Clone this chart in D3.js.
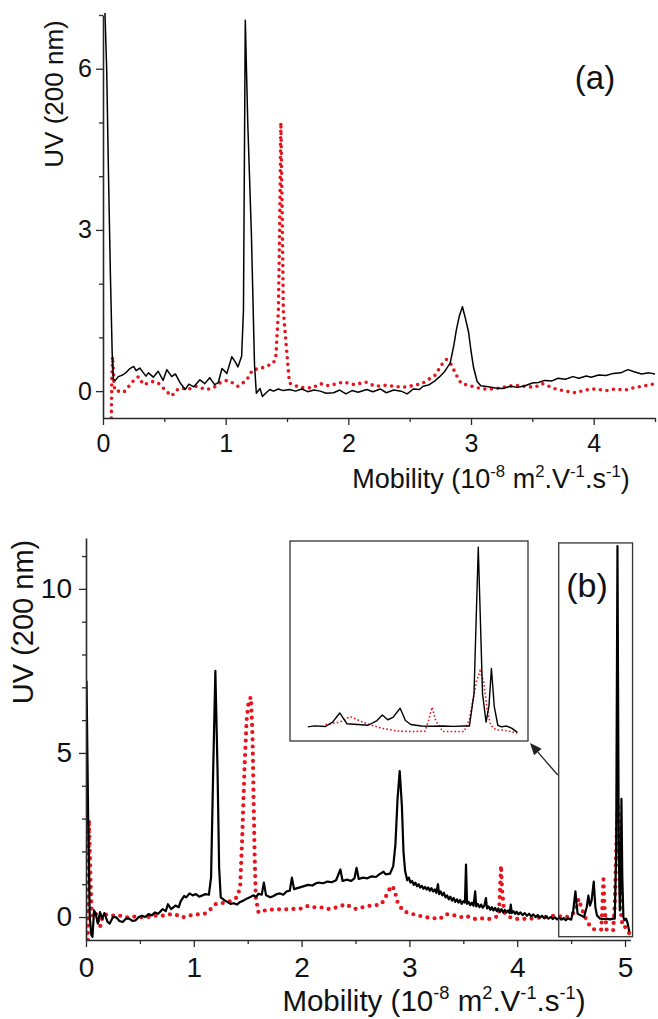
<!DOCTYPE html>
<html><head><meta charset="utf-8">
<script src="https://cdn.jsdelivr.net/npm/d3@7"></script>
<style>
body{margin:0;background:#fff}
svg{display:block}
text{font-family:"Liberation Sans",Arial,Helvetica,sans-serif;fill:#111}
</style>
</head><body>
<svg id="c" width="658" height="1019"></svg>
<script>
// ---------------- DATA ----------------
// Panel (a): mobility (x) vs UV absorbance (y)
const aBlack = [[0.015,7.1],[0.03,6.0],[0.045,4.0],[0.06,2.2],[0.075,0.7],[0.085,0.22],[0.1,0.2],[0.125,0.27],[0.16,0.3],[0.19,0.35],[0.22,0.42],[0.25,0.46],[0.27,0.38],[0.30,0.43],[0.33,0.34],[0.35,0.28],[0.37,0.34],[0.41,0.26],[0.45,0.37],[0.49,0.2],[0.52,0.4],[0.56,0.27],[0.59,0.32],[0.63,0.15],[0.67,0.03],[0.70,0.13],[0.74,0.08],[0.79,0.21],[0.83,0.14],[0.87,0.25],[0.91,0.12],[0.94,0.16],[0.97,0.42],[1.01,0.33],[1.05,0.64],[1.08,0.54],[1.10,0.45],[1.13,0.65],[1.145,1.5],[1.16,6.9],[1.18,5.0],[1.21,2.9],[1.235,0.5],[1.25,-0.04],[1.28,0.05],[1.30,-0.1],[1.33,-0.03],[1.36,0.03],[1.39,0.0],[1.43,0.04],[1.47,0.01],[1.52,0.03],[1.57,0.0],[1.62,0.04],[1.67,-0.01],[1.72,0.02],[1.77,0.0],[1.82,-0.04],[1.88,-0.03],[1.93,0.02],[1.98,-0.05],[2.03,0.01],[2.08,-0.02],[2.15,0.03],[2.2,-0.01],[2.26,0.04],[2.31,-0.03],[2.37,0.02],[2.43,0.0],[2.48,-0.05],[2.53,0.04],[2.58,0.03],[2.61,0.09],[2.66,0.12],[2.70,0.18],[2.74,0.26],[2.78,0.35],[2.83,0.52],[2.86,0.85],[2.88,1.13],[2.905,1.4],[2.93,1.57],[2.955,1.35],[2.98,1.1],[3.0,0.75],[3.02,0.45],[3.05,0.18],[3.08,0.1],[3.14,0.08],[3.2,0.06],[3.26,0.05],[3.32,0.09],[3.38,0.07],[3.44,0.1],[3.50,0.15],[3.55,0.16],[3.6,0.2],[3.66,0.19],[3.71,0.24],[3.77,0.22],[3.83,0.27],[3.88,0.24],[3.94,0.28],[3.98,0.26],[4.04,0.3],[4.1,0.29],[4.16,0.33],[4.22,0.34],[4.28,0.4],[4.33,0.36],[4.39,0.32],[4.45,0.34],[4.5,0.32]];

const aRed = [[0.068,-0.5],[0.072,0.2],[0.078,0.64],[0.085,0.35],[0.09,0.1],[0.1,0.0],[0.13,0.0],[0.17,-0.02],[0.2,0.06],[0.25,0.2],[0.29,0.27],[0.33,0.12],[0.37,0.15],[0.41,0.18],[0.45,0.15],[0.49,0.06],[0.53,-0.03],[0.56,-0.09],[0.60,0.02],[0.64,0.06],[0.69,0.03],[0.76,0.09],[0.84,0.03],[0.90,0.06],[0.95,0.15],[1.01,0.2],[1.06,0.15],[1.10,0.09],[1.14,0.15],[1.18,0.24],[1.22,0.4],[1.28,0.42],[1.33,0.46],[1.39,0.52],[1.41,0.67],[1.43,1.5],[1.44,3.0],[1.45,5.0],[1.46,3.5],[1.47,1.5],[1.50,0.68],[1.52,0.15],[1.55,0.12],[1.60,0.07],[1.71,0.06],[1.77,0.14],[1.84,0.1],[1.96,0.17],[2.05,0.12],[2.14,0.17],[2.22,0.09],[2.31,0.11],[2.44,0.07],[2.52,0.1],[2.6,0.14],[2.71,0.3],[2.76,0.49],[2.80,0.59],[2.84,0.49],[2.88,0.3],[2.92,0.14],[2.98,0.11],[3.09,0.04],[3.19,0.04],[3.28,0.08],[3.36,0.11],[3.44,0.09],[3.52,0.07],[3.58,0.14],[3.69,0.04],[3.77,0.0],[3.85,-0.03],[3.93,0.02],[4.01,0.04],[4.1,0.01],[4.18,0.04],[4.26,0.02],[4.34,0.07],[4.42,0.1],[4.5,0.14]];

// Panel (b)
const bBlack = [[0.005,7.2],[0.02,3.0],[0.035,0.0],[0.05,-0.55],[0.06,-0.6],[0.075,0.2],[0.09,0.1],[0.11,-0.2],[0.13,0.15],[0.15,-0.05],[0.17,0.12],[0.2,-0.15],[0.22,-0.2],[0.25,0.0],[0.28,-0.01],[0.31,-0.12],[0.34,-0.15],[0.37,-0.05],[0.40,-0.05],[0.43,-0.12],[0.46,-0.1],[0.49,0.0],[0.52,0.04],[0.55,0.0],[0.58,0.09],[0.61,0.05],[0.64,0.14],[0.67,0.1],[0.71,0.24],[0.74,0.18],[0.76,0.39],[0.79,0.24],[0.83,0.35],[0.86,0.3],[0.88,0.49],[0.91,0.64],[0.93,0.6],[0.96,0.72],[0.99,0.66],[1.02,0.7],[1.05,0.62],[1.08,0.66],[1.11,0.7],[1.14,0.68],[1.16,1.2],[1.18,4.5],[1.20,7.5],[1.22,4.5],[1.235,1.5],[1.25,0.6],[1.28,0.52],[1.31,0.46],[1.34,0.4],[1.37,0.42],[1.40,0.38],[1.43,0.46],[1.46,0.5],[1.49,0.56],[1.52,0.6],[1.55,0.66],[1.58,0.62],[1.60,0.71],[1.63,0.68],[1.65,1.05],[1.67,0.66],[1.71,0.6],[1.74,0.64],[1.77,0.7],[1.80,0.72],[1.83,0.68],[1.86,0.78],[1.89,0.8],[1.91,1.2],[1.93,0.85],[1.96,0.88],[2.0,0.92],[2.03,0.95],[2.06,0.98],[2.1,0.96],[2.13,1.02],[2.16,1.05],[2.2,1.03],[2.24,1.08],[2.28,1.06],[2.32,1.12],[2.36,1.45],[2.38,1.1],[2.42,1.14],[2.46,1.1],[2.49,1.18],[2.51,1.5],[2.53,1.16],[2.57,1.2],[2.61,1.18],[2.65,1.24],[2.69,1.22],[2.72,1.3],[2.76,1.38],[2.78,1.3],[2.82,1.32],[2.85,1.55],[2.87,2.2],[2.89,3.6],[2.91,4.45],[2.93,3.4],[2.945,2.0],[2.96,1.4],[2.98,1.12],[2.995,1.2],[3.01,1.05],[3.025,1.1],[3.04,0.98],[3.055,1.05],[3.07,0.94],[3.085,1.0],[3.1,0.9],[3.115,0.95],[3.13,0.86],[3.145,0.92],[3.16,0.84],[3.175,0.9],[3.19,0.8],[3.205,0.88],[3.22,0.78],[3.235,0.84],[3.25,0.74],[3.265,1.0],[3.275,0.7],[3.29,0.78],[3.305,0.66],[3.32,0.74],[3.335,0.6],[3.35,0.66],[3.365,0.54],[3.38,0.62],[3.395,0.5],[3.41,0.58],[3.425,0.46],[3.44,0.54],[3.455,0.44],[3.47,0.52],[3.485,0.4],[3.5,0.48],[3.515,0.44],[3.525,1.6],[3.535,0.4],[3.55,0.46],[3.565,0.36],[3.58,0.44],[3.595,0.34],[3.61,0.78],[3.62,0.32],[3.635,0.4],[3.65,0.3],[3.665,0.38],[3.68,0.28],[3.695,0.34],[3.71,0.58],[3.72,0.26],[3.735,0.32],[3.75,0.22],[3.765,0.3],[3.78,0.2],[3.795,0.28],[3.81,0.18],[3.825,0.26],[3.84,0.16],[3.855,0.24],[3.87,0.14],[3.885,0.22],[3.9,0.14],[3.915,0.2],[3.93,0.12],[3.94,0.38],[3.95,0.12],[3.965,0.18],[3.98,0.1],[3.995,0.16],[4.01,0.08],[4.03,0.14],[4.05,0.06],[4.07,0.12],[4.09,0.04],[4.11,0.1],[4.13,0.02],[4.15,0.08],[4.17,0.0],[4.19,0.06],[4.21,-0.02],[4.23,0.04],[4.25,-0.04],[4.27,0.02],[4.29,-0.05],[4.31,0.0],[4.33,-0.06],[4.35,-0.01],[4.37,-0.07],[4.39,-0.02],[4.41,-0.08],[4.43,-0.03],[4.45,-0.1],[4.47,-0.04],[4.50,-0.08],[4.52,0.2],[4.54,0.78],[4.56,0.1],[4.59,0.05],[4.62,0.0],[4.645,0.3],[4.66,0.65],[4.675,0.35],[4.69,0.5],[4.71,1.08],[4.725,0.3],[4.74,0.05],[4.77,-0.05],[4.80,-0.06],[4.83,-0.05],[4.86,-0.07],[4.89,-0.05],[4.905,-0.05],[4.918,2.0],[4.93,11.3],[4.942,2.0],[4.952,0.2],[4.96,1.2],[4.967,3.6],[4.975,1.2],[4.985,0.0],[4.995,-0.1],[5.01,-0.05],[5.025,-0.2],[5.04,-0.45]];

const bRed = [[0.018,-0.7],[0.022,1.5],[0.027,2.96],[0.035,2.0],[0.045,0.8],[0.055,0.1],[0.07,0.0],[0.09,0.12],[0.11,-0.1],[0.13,-0.3],[0.15,-0.05],[0.17,0.09],[0.21,0.05],[0.24,0.04],[0.30,0.06],[0.35,0.0],[0.40,-0.01],[0.46,0.02],[0.52,-0.01],[0.57,0.0],[0.61,0.01],[0.66,0.05],[0.71,0.04],[0.76,0.07],[0.80,0.09],[0.85,0.05],[0.89,-0.01],[0.94,0.02],[0.98,0.06],[1.04,0.08],[1.1,0.1],[1.15,0.22],[1.2,0.39],[1.25,0.42],[1.30,0.44],[1.35,0.5],[1.40,0.6],[1.43,0.9],[1.45,2.5],[1.47,4.5],[1.49,6.0],[1.51,6.6],[1.53,6.7],[1.545,5.5],[1.555,3.5],[1.565,1.8],[1.575,0.6],[1.60,0.14],[1.64,0.19],[1.70,0.22],[1.76,0.24],[1.82,0.23],[1.89,0.24],[1.95,0.25],[2.0,0.26],[2.06,0.34],[2.13,0.29],[2.19,0.29],[2.26,0.24],[2.33,0.3],[2.41,0.39],[2.46,0.3],[2.51,0.24],[2.57,0.3],[2.63,0.34],[2.69,0.36],[2.74,0.39],[2.77,0.55],[2.80,0.75],[2.83,0.95],[2.86,0.85],[2.89,0.45],[2.94,0.19],[2.98,0.14],[3.03,0.09],[3.09,0.04],[3.16,-0.01],[3.22,-0.03],[3.28,-0.06],[3.34,0.09],[3.39,0.06],[3.44,0.04],[3.48,0.0],[3.52,0.04],[3.57,-0.02],[3.61,-0.06],[3.67,-0.04],[3.74,-0.06],[3.80,0.0],[3.83,0.04],[3.84,0.8],[3.85,1.57],[3.86,0.8],[3.88,0.14],[3.93,0.0],[3.98,-0.06],[4.04,-0.05],[4.11,-0.06],[4.17,-0.03],[4.23,-0.01],[4.29,0.02],[4.35,0.04],[4.40,0.02],[4.44,-0.01],[4.50,0.04],[4.54,0.2],[4.57,0.55],[4.60,0.24],[4.63,0.0],[4.66,-0.2],[4.70,-0.36],[4.74,-0.4],[4.78,-0.38],[4.79,0.3],[4.80,1.15],[4.81,0.3],[4.83,-0.4],[4.86,-0.4],[4.89,-0.4],[4.905,0.4],[4.915,1.6],[4.925,2.8],[4.935,3.45],[4.945,2.8],[4.955,1.0],[4.965,0.0],[4.98,-0.3],[5.0,-0.3],[5.02,-0.4],[5.04,-0.5]];

// Tick values
const xMajorTicksA = [0,1,2,3,4];
const xMinorTicksA = [0.5,1.5,2.5,3.5,4.5];
const yMajorTicksA = [0,3,6];
const yMinorTicksA = [1,2,4,5,7];
const xMajorTicksB = [0,1,2,3,4,5];
const xMinorTicksB = [0.5,1.5,2.5,3.5,4.5];
const yMajorTicksB = [0,5,10];
const yMinorTicksB = [1,2,3,4,6,7,8,9,11];

// Zoomed region (b) in data units and inset domain
const zoomX = [4.385, 5.07];
const zoomY = [-0.6, 11.4];
const insetXDomain = [4.40, 5.07];
const insetYDomain = [-1.0, 11.7];

const RED = "#e8141c";
const AXIS = "#2a2a2a";

// ---------------- DRAW ----------------
const svg = d3.select("#c");

function titleMobility(g, x, y, fs) {
  const t = g.append("text").attr("x", x).attr("y", y).attr("text-anchor","middle").style("font-size", fs+"px");
  const sup = fs*0.62, up = fs*0.42;
  const parts = [["Mobility (10",0],["-8",1],[" m",0],["2",1],[".V",0],["-1",1],[".s",0],["-1",1],[")",0]];
  let state = 0;
  parts.forEach(([s,isSup]) => {
    const ts = t.append("tspan").text(s);
    if (isSup) { ts.style("font-size", sup+"px").attr("dy", -up); state = 1; }
    else { if (state===1) ts.attr("dy", up); state = 0; }
  });
}

function panel(cfg) {
  const g = svg.append("g");
  const x = d3.scaleLinear().domain(cfg.xDomain).range([cfg.left, cfg.right]);
  const y = d3.scaleLinear().domain(cfg.yDomain).range([cfg.bottom, cfg.top]);
  const clipId = "clip" + cfg.id;
  svg.append("clipPath").attr("id", clipId).append("rect")
    .attr("x", cfg.left).attr("y", cfg.top - 2).attr("width", cfg.right - cfg.left + 2).attr("height", cfg.bottom - cfg.top + 2);

  const line = d3.line().x(d => x(d[0])).y(d => y(d[1]));
  const plot = g.append("g").attr("clip-path", `url(#${clipId})`);

  plot.append("path").datum(cfg.red).attr("d", line)
    .attr("fill","none").attr("stroke", RED).attr("stroke-width", cfg.dotW)
    .attr("stroke-linecap","round").attr("stroke-linejoin","round")
    .attr("stroke-dasharray", `0 ${cfg.dotGap}`);
  plot.append("path").datum(cfg.black).attr("d", line)
    .attr("fill","none").attr("stroke","#000").attr("stroke-width", cfg.blackW)
    .attr("stroke-linejoin","round");

  // axes
  const fmt = d3.format("d");
  g.append("g").attr("transform", `translate(0,${cfg.bottom})`)
    .call(d3.axisBottom(x).tickValues(cfg.xMajor).tickFormat(fmt).tickSize(7).tickPadding(cfg.xPad).tickSizeOuter(0));
  g.append("g").attr("transform", `translate(0,${cfg.bottom})`)
    .call(d3.axisBottom(x).tickValues(cfg.xMinor).tickFormat("").tickSize(4).tickSizeOuter(0))
    .select(".domain").remove();
  g.append("g").attr("transform", `translate(${cfg.left},0)`)
    .call(d3.axisLeft(y).tickValues(cfg.yMajor).tickFormat(fmt).tickSize(7).tickPadding(cfg.yPad).tickSizeOuter(0));
  g.append("g").attr("transform", `translate(${cfg.left},0)`)
    .call(d3.axisLeft(y).tickValues(cfg.yMinor).tickFormat("").tickSize(4).tickSizeOuter(0))
    .select(".domain").remove();
  g.selectAll(".domain").attr("stroke", AXIS).attr("stroke-width", 1.6);
  g.selectAll(".tick line").attr("stroke", AXIS).attr("stroke-width", 1.3);
  g.selectAll(".tick text").style("font-size", cfg.tickFs+"px")
    .style("font-family", '"Liberation Sans", Arial, sans-serif').attr("fill","#111");

  // titles
  titleMobility(g, cfg.xTitle[0], cfg.xTitle[1], cfg.xTitleFs);
  g.append("text").attr("transform", `translate(${cfg.yTitle[0]},${cfg.yTitle[1]}) rotate(-90)`)
    .attr("text-anchor","middle").style("font-size", cfg.yTitleFs+"px").text("UV (200 nm)");
  g.append("text").attr("x", cfg.tag[0]).attr("y", cfg.tag[1]).attr("text-anchor","middle")
    .style("font-size", cfg.tagFs+"px").text(cfg.tagText);
  return {x, y, g};
}

// Panel (a)
panel({
  id:"A", left:103, right:655, top:15, bottom:418,
  xDomain:[0,4.5], yDomain:[-0.5,7],
  black:aBlack, red:aRed, blackW:1.5, dotW:3.6, dotGap:6.6,
  xMajor:xMajorTicksA, xMinor:xMinorTicksA, yMajor:yMajorTicksA, yMinor:yMinorTicksA,
  tickFs:25, xPad:9, yPad:4,
  xTitle:[491,488], xTitleFs:27, yTitle:[63,94], yTitleFs:26,
  tag:[595,89], tagFs:33, tagText:"(a)"
});

// Panel (b)
const pB = panel({
  id:"B", left:86, right:630.4, top:538, bottom:940,
  xDomain:[0,5.05], yDomain:[-0.7,11.55],
  black:bBlack, red:bRed, blackW:2.2, dotW:4.2, dotGap:7.2,
  xMajor:xMajorTicksB, xMinor:xMinorTicksB, yMajor:yMajorTicksB, yMinor:yMinorTicksB,
  tickFs:28, xPad:10, yPad:7,
  xTitle:[434,1011], xTitleFs:29.5, yTitle:[33,622], yTitleFs:29,
  tag:[587,597], tagFs:34, tagText:"(b)"
});

// Zoom rectangle in panel (b)
svg.append("rect")
  .attr("x", pB.x(zoomX[0])).attr("y", pB.y(zoomY[1]))
  .attr("width", pB.x(zoomX[1]) - pB.x(zoomX[0]))
  .attr("height", pB.y(zoomY[0]) - pB.y(zoomY[1]))
  .attr("fill","none").attr("stroke","#333").attr("stroke-width",1.3);

// Inset
const inset = {left:290, right:528, top:541, bottom:741};
const ix = d3.scaleLinear().domain(insetXDomain).range([inset.left, inset.right]);
const iy = d3.scaleLinear().domain(insetYDomain).range([inset.bottom, inset.top]);
svg.append("clipPath").attr("id","clipI").append("rect")
  .attr("x", inset.left).attr("y", inset.top).attr("width", inset.right-inset.left).attr("height", inset.bottom-inset.top);
const ig = svg.append("g").attr("clip-path","url(#clipI)");
const iline = d3.line().x(d => ix(d[0])).y(d => iy(d[1]));
const inRange = d => d[0] >= 4.45 && d[0] <= 5.05;
ig.append("path").datum(bRed.filter(inRange)).attr("d", iline)
  .attr("fill","none").attr("stroke", RED).attr("stroke-width", 1.6).attr("stroke-dasharray","1.6 2.2");
ig.append("path").datum(bBlack.filter(inRange)).attr("d", iline)
  .attr("fill","none").attr("stroke","#000").attr("stroke-width", 1.4).attr("stroke-linejoin","round");
svg.append("rect").attr("x", inset.left).attr("y", inset.top)
  .attr("width", inset.right-inset.left).attr("height", inset.bottom-inset.top)
  .attr("fill","none").attr("stroke","#333").attr("stroke-width",1.3);

// Arrow from zoom rectangle to inset
const a0 = [pB.x(zoomX[0]) - 1, 775], a1 = [inset.right + 2, inset.bottom + 2];
const ang = Math.atan2(a1[1]-a0[1], a1[0]-a0[0]);
const hl = 12, hw = 5;
const base = [a1[0] - hl*Math.cos(ang), a1[1] - hl*Math.sin(ang)];
svg.append("line").attr("x1", a0[0]).attr("y1", a0[1]).attr("x2", base[0]).attr("y2", base[1])
  .attr("stroke","#222").attr("stroke-width",1.3);
svg.append("path").attr("d", `M${a1[0]},${a1[1]} L${base[0]+hw*Math.sin(ang)},${base[1]-hw*Math.cos(ang)} L${base[0]-hw*Math.sin(ang)},${base[1]+hw*Math.cos(ang)} Z`)
  .attr("fill","#222");
</script>
</body></html>
